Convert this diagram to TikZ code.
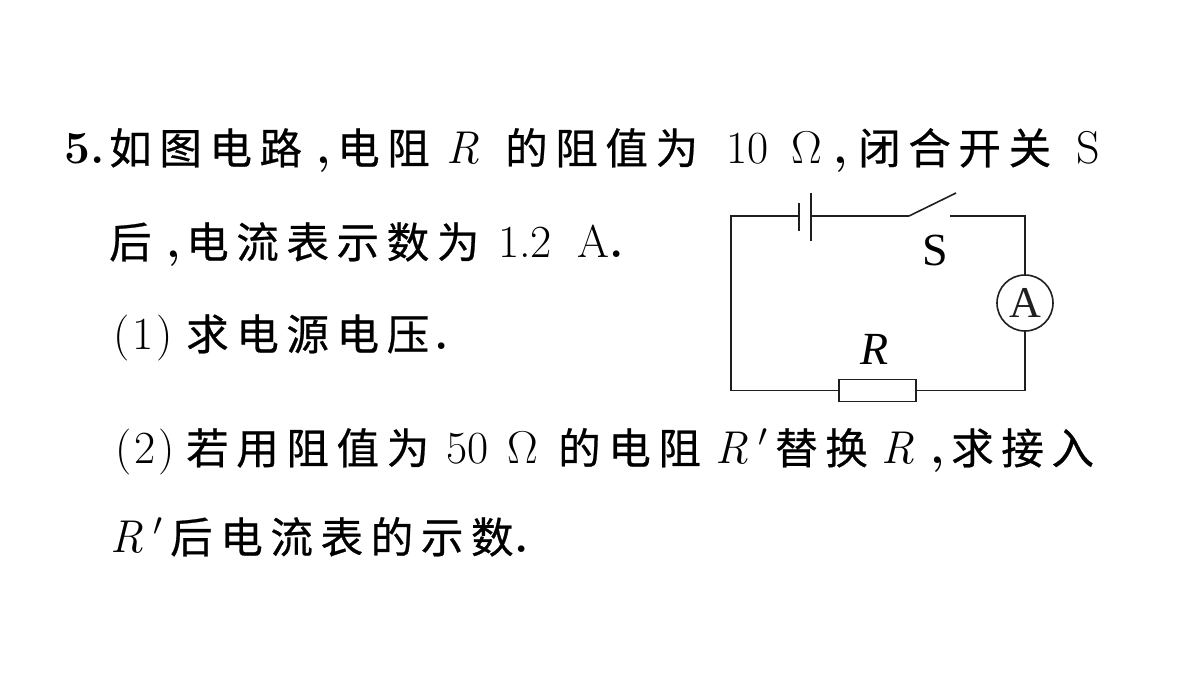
\RequirePackage{fix-cm}
\documentclass[tikz,border=0pt]{standalone}
\usepackage{fontspec}
\DeclareMathSizes{46}{46}{32}{23}
\newfontfamily\cjk{Noto Sans CJK SC}[FakeBold=0.6,LetterSpace=18]
\newfontfamily\timesf{Liberation Serif}
\newcommand{\mthR}{\textit{R}}
\newcommand{\mthO}{Ω}
\newcommand{\mthP}{${}'$}
\tikzset{
  txt/.style={anchor=base west,inner sep=0pt,font=\fontsize{46pt}{46pt}\selectfont},
  zh/.style={anchor=base west,inner sep=0pt,font=\cjk\fontsize{42.5pt}{46pt}\selectfont},
  wire/.style={line width=1.6pt,black!88},
  lbl/.style={inner sep=0pt,font=\timesf\fontsize{46pt}{46pt}\selectfont},
}
\begin{document}
\begin{tikzpicture}[x=1pt,y=-1pt]
\useasboundingbox (0,0) rectangle (1200,675);
\fill[white] (0,0) rectangle (1200,675);
% line 1
\node[txt] (a1) at (64,163) {\textbf{5.}};
\node[zh] (a2) at (109,164) {如图电路};
\node[txt] (a3) at (316,163) {\textbf{,}};
\node[zh] (a4) at (337,164) {电阻};
\node[txt] (a5) at (446,163) {\mthR};
\node[zh] (a6) at (505,164) {的阻值为};
\node[txt] (a7) at (726,163) {10};
\node[txt] (a8) at (791,163) {\mthO};
\node[txt] (a9) at (833,163) {\textbf{,}};
\node[zh] (a10) at (858,164) {闭合开关};
\node[txt] (a11) at (1076,163) {S};
% line 2
\node[zh] (b1) at (109,258) {后};
\node[txt] (b2) at (166,257) {\textbf{,}};
\node[zh] (b3) at (186,258) {电流表示数为};
\node[txt] (b4) at (498,257) {1.2};
\node[txt] (b5) at (577,257) {A\textbf{.}};
% line 3
\node[txt] (c1) at (113,349) {(\kern3pt 1\kern3pt)};
\node[zh] (c2) at (186,350) {求电源电压};
\node[txt] (c3) at (434,349) {\textbf{.}};
% line 4
\node[txt] (d1) at (115,463) {(\kern3pt 2\kern3pt)};
\node[zh] (d2) at (186,464) {若用阻值为};
\node[txt] (d3) at (446,463) {50};
\node[txt] (d4) at (507,463) {\mthO};
\node[zh] (d5) at (558,464) {的电阻};
\node[txt] (d6) at (715,463) {\mthR};
\node[txt] (d7) at (758,463) {\mthP};
\node[zh] (d8) at (775,464) {替换};
\node[txt] (d9) at (881,463) {\mthR};
\node[txt] (d10) at (930,463) {\textbf{,}};
\node[zh] (d11) at (951,464) {求接入};
% line 5
\node[txt] (e1) at (110,552) {\mthR};
\node[txt] (e2) at (153,552) {\mthP};
\node[zh] (e3) at (170,553) {后电流表的示数};
\node[txt] (e4) at (514,552) {\textbf{.}};
% circuit
\coordinate (tl) at (731,216);
\coordinate (tr) at (1025,216);
\coordinate (br) at (1025,390.5);
\coordinate (bl) at (731,390.5);
\coordinate (b1c) at (799,216);
\coordinate (b2c) at (811,216);
\coordinate (b1t) at (799,203);
\coordinate (b1b) at (799,231);
\coordinate (b2t) at (811,193);
\coordinate (b2b) at (811,241);
\coordinate (s1) at (909,216);
\coordinate (s2) at (956,193);
\coordinate (s3) at (950,216);
\node[draw,wire,circle,minimum size=56pt,inner sep=0pt,font=\timesf\fontsize{44pt}{44pt}\selectfont] (am) at (1025,303) {A};
\node[draw,wire,rectangle,minimum width=77pt,minimum height=22pt,inner sep=0pt] (res) at (877.5,390.5) {};
\node[lbl] (S) at (935,250) {S};
\node[lbl,font=\timesf\itshape\fontsize{46pt}{46pt}\selectfont] (Rl) at (875,349) {R};
\draw[wire] (b1c) -- (tl) -- (bl) -- (res.west);
\draw[wire] (res.east) -- (br) -- (am.south);
\draw[wire] (am.north) -- (tr) -- (s3);
\draw[wire] (s1) -- (s2);
\draw[wire] (s1) -- (b2c);
\draw[wire,line width=2pt] (b1t) -- (b1b);
\draw[wire] (b2t) -- (b2b);
\end{tikzpicture}
\end{document}
